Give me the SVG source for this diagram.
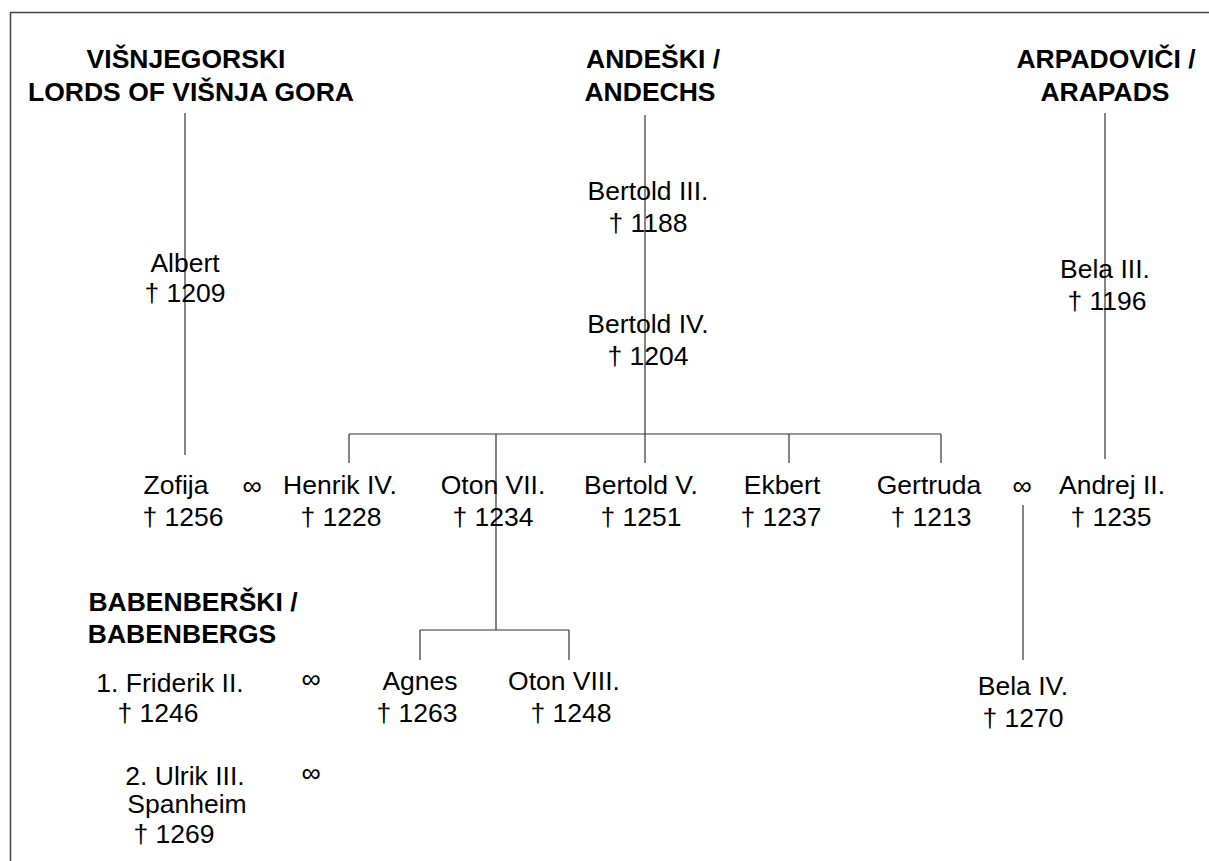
<svg xmlns="http://www.w3.org/2000/svg" width="1209" height="861" viewBox="0 0 1209 861">
<style>
text{font-family:"Liberation Sans",Arial,sans-serif;fill:#000;text-anchor:middle}
.h{font-size:26.5px;font-weight:bold}
.n{font-size:26.5px}
.m{font-size:27px}
.c line{stroke:#333;stroke-width:1.2}
.f{stroke:#444;stroke-width:1.5;fill:none}
</style>
<rect width="1209" height="861" fill="#fff"/>
<path class="f" d="M10.5,861 V12.5 H1209"/>
<g class="c" id="connectors">
<line x1="185" y1="113" x2="185" y2="455"/>
<line x1="645" y1="115" x2="645" y2="463"/>
<line x1="1105" y1="113" x2="1105" y2="459"/>
<line x1="349" y1="434" x2="941" y2="434"/>
<line x1="349" y1="434" x2="349" y2="463"/>
<line x1="496" y1="434" x2="496" y2="630"/>
<line x1="789" y1="434" x2="789" y2="463"/>
<line x1="941" y1="434" x2="941" y2="463"/>
<line x1="1023" y1="505" x2="1023" y2="660"/>
<line x1="420" y1="630" x2="569" y2="630"/>
<line x1="420" y1="630" x2="420" y2="660"/>
<line x1="569" y1="630" x2="569" y2="660"/>
</g>
<g id="title-visnjegorski"><text class="h" x="186" y="68">VIŠNJEGORSKI</text><text class="h" x="191" y="101">LORDS OF VIŠNJA GORA</text></g>
<g id="title-andechs"><text class="h" x="653" y="68">ANDEŠKI /</text><text class="h" x="650" y="101">ANDECHS</text></g>
<g id="title-arpads"><text class="h" x="1106" y="68">ARPADOVIČI /</text><text class="h" x="1105" y="101">ARAPADS</text></g>
<g id="title-babenbergs"><text class="h" x="193" y="611">BABENBERŠKI /</text><text class="h" x="182" y="643">BABENBERGS</text></g>
<g id="albert"><text class="n" x="185" y="272">Albert</text><text class="n" x="185" y="302">† 1209</text></g>
<g id="bertold3"><text class="n" x="648" y="200">Bertold III.</text><text class="n" x="648" y="232">† 1188</text></g>
<g id="bertold4"><text class="n" x="648" y="333">Bertold IV.</text><text class="n" x="648" y="365">† 1204</text></g>
<g id="bela3"><text class="n" x="1105" y="278">Bela III.</text><text class="n" x="1107" y="310">† 1196</text></g>
<g id="zofija"><text class="n" x="176" y="494">Zofija</text><text class="n" x="183" y="526">† 1256</text></g>
<g id="m1"><text class="m" x="252" y="495">∞</text></g>
<g id="henrik4"><text class="n" x="340" y="494">Henrik IV.</text><text class="n" x="341" y="526">† 1228</text></g>
<g id="oton7"><text class="n" x="493" y="494">Oton VII.</text><text class="n" x="493" y="526">† 1234</text></g>
<g id="bertold5"><text class="n" x="641" y="494">Bertold V.</text><text class="n" x="641" y="526">† 1251</text></g>
<g id="ekbert"><text class="n" x="782" y="494">Ekbert</text><text class="n" x="781" y="526">† 1237</text></g>
<g id="gertruda"><text class="n" x="929" y="494">Gertruda</text><text class="n" x="931" y="526">† 1213</text></g>
<g id="m2"><text class="m" x="1022" y="495">∞</text></g>
<g id="andrej2"><text class="n" x="1112" y="494">Andrej II.</text><text class="n" x="1111" y="526">† 1235</text></g>
<g id="friderik2"><text class="n" x="170" y="692">1. Friderik II.</text><text class="n" x="158" y="722">† 1246</text></g>
<g id="m3"><text class="m" x="311" y="688">∞</text></g>
<g id="agnes"><text class="n" x="420" y="690">Agnes</text><text class="n" x="417" y="722">† 1263</text></g>
<g id="oton8"><text class="n" x="564" y="690">Oton VIII.</text><text class="n" x="571" y="722">† 1248</text></g>
<g id="bela4"><text class="n" x="1023" y="695">Bela IV.</text><text class="n" x="1023" y="727">† 1270</text></g>
<g id="ulrik3"><text class="n" x="185" y="785">2. Ulrik III.</text><text class="n" x="187" y="813">Spanheim</text><text class="n" x="174" y="843">† 1269</text></g>
<g id="m4"><text class="m" x="311" y="782">∞</text></g>
</svg>
